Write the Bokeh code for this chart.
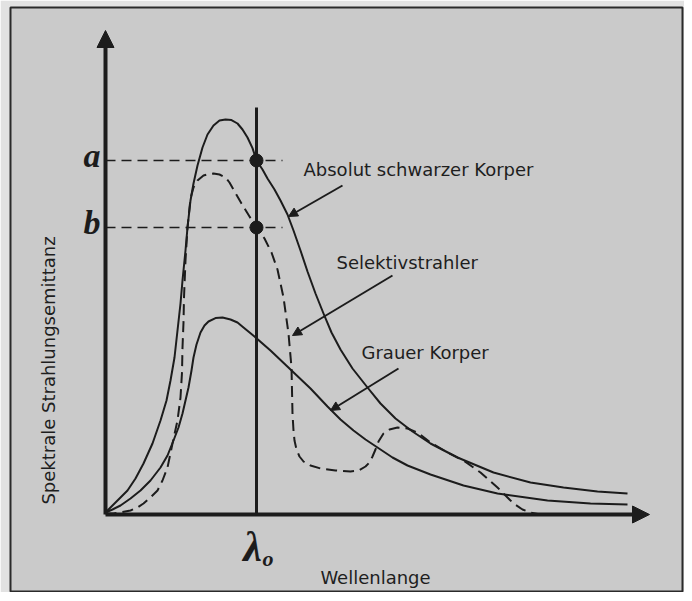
from bokeh.plotting import figure
from bokeh.models import Range1d, Label, Arrow, NormalHead
from bokeh.embed import file_html
from bokeh.resources import INLINE

# ---- data (arbitrary units: wavelength, spectral radiant emittance) ----
bb_lam = [0, 0.1, 0.26, 0.44, 0.6, 0.76, 0.94, 1.1, 1.22, 1.3, 1.38, 1.44, 1.5, 1.54, 1.6,
          1.64, 1.7, 1.76, 1.84, 1.94, 2.04, 2.16, 2.28, 2.4, 2.52, 2.64, 2.74, 2.84, 2.94,
          3.02, 3.14, 3.24, 3.38, 3.5, 3.64, 3.76, 3.9, 4.04, 4.2, 4.36, 4.52, 4.7, 4.94,
          5.24, 5.5, 5.8, 6.14, 6.5, 7.04, 7.76, 8.5, 9.16, 9.84, 10.44]
bb_em = [0.05, 0.175, 0.375, 0.6, 0.9, 1.275, 1.775, 2.35, 2.85, 3.35, 3.925, 4.6, 5.275,
         5.85, 6.6, 7.175, 7.85, 8.275, 8.725, 9.175, 9.5, 9.725, 9.85, 9.875, 9.86, 9.775,
         9.625, 9.425, 9.16, 8.85, 8.625, 8.4, 8.125, 7.85, 7.5, 7.1, 6.6, 6.075, 5.525,
         5.025, 4.55, 4.125, 3.65, 3.175, 2.775, 2.4, 2.075, 1.775, 1.425, 1.05, 0.8,
         0.675, 0.575, 0.525]

grey_lam = [0, 0.14, 0.3, 0.5, 0.7, 0.9, 1.1, 1.24, 1.36, 1.46, 1.54, 1.6, 1.66, 1.72, 1.76,
            1.82, 1.9, 1.98, 2.06, 2.2, 2.34, 2.5, 2.64, 2.76, 2.98, 3.3, 3.7, 4.1, 4.44,
            4.7, 4.96, 5.2, 5.44, 5.74, 6.04, 6.5, 7.16, 7.84, 8.84, 9.7, 10.44]
grey_em = [0.05, 0.125, 0.225, 0.4, 0.6, 0.85, 1.175, 1.475, 1.85, 2.175, 2.525, 2.85,
           3.175, 3.6, 3.925, 4.25, 4.55, 4.725, 4.825, 4.91, 4.925, 4.875, 4.8, 4.675,
           4.45, 4.1, 3.625, 3.15, 2.7, 2.375, 2.1, 1.875, 1.675, 1.425, 1.225, 1.0,
           0.725, 0.525, 0.35, 0.275, 0.25]

sel_lam = [0, 0.16, 0.34, 0.5, 0.64, 0.76, 0.9, 1.04, 1.14, 1.24, 1.34, 1.44, 1.5, 1.53,
           1.54, 1.56, 1.57, 1.6, 1.64, 1.7, 1.76, 1.84, 1.96, 2.06, 2.16, 2.28, 2.4, 2.48,
           2.56, 2.72, 2.88, 3.02, 3.18, 3.32, 3.44, 3.56, 3.66, 3.72, 3.74, 3.76, 3.78,
           3.82, 3.88, 3.96, 4.1, 4.3, 4.6, 4.9, 5.06, 5.2, 5.28, 5.34, 5.4, 5.46, 5.56,
           5.68, 5.84, 6.04, 6.24, 6.5, 6.84, 7.16, 7.5, 7.84, 8.0, 8.16, 8.34, 8.5, 8.7]
sel_em = [0.025, 0.025, 0.06, 0.1, 0.175, 0.275, 0.425, 0.6, 0.85, 1.175, 1.775, 2.35,
          2.925, 3.55, 4.175, 4.8, 5.425, 6.35, 7.175, 7.9, 8.175, 8.35, 8.475, 8.51, 8.525,
          8.5, 8.425, 8.3, 8.125, 7.775, 7.45, 7.175, 6.9, 6.55, 6.125, 5.425, 4.525,
          3.675, 2.525, 2.1, 1.85, 1.625, 1.45, 1.325, 1.225, 1.15, 1.1, 1.075, 1.1, 1.2,
          1.3, 1.45, 1.625, 1.825, 2.025, 2.125, 2.175, 2.15, 2.05, 1.8, 1.55, 1.35, 1.05,
          0.675, 0.475, 0.275, 0.125, 0.05, 0.0]

LAMBDA_0 = 3.02
LEVEL_A = 8.85
LEVEL_B = 7.175

label_black = "Absolut schwarzer Korper"
label_sel = "Selektivstrahler"
label_grey = "Grauer Korper"
x_title = "Wellenlange"
y_title = "Spektrale Strahlungsemittanz"

# ---- styling / layout ----
INK = "#1c1c1c"
PAPER = "#cacaca"
X_END = 10.88
Y_END = 12.1

p = figure(width=684, height=592, output_backend="svg", toolbar_location=None,
           x_axis_type=None, y_axis_type=None,
           x_range=Range1d(-1.9, 11.54), y_range=Range1d(-1.95, 12.675),
           min_border=0, min_border_left=10, min_border_right=2,
           min_border_top=7, min_border_bottom=0)
p.grid.visible = False
p.background_fill_color = PAPER
p.border_fill_color = "#e2e2e2"
p.outline_line_color = "#2a2a2a"
p.outline_line_width = 2

# axes drawn as arrows
p.add_layout(Arrow(x_start=0, y_start=0, x_end=0, y_end=Y_END, line_width=4, line_color=INK,
                   end=NormalHead(size=17, fill_color=INK, line_color=INK)))
p.add_layout(Arrow(x_start=0, y_start=0, x_end=X_END, y_end=0, line_width=4, line_color=INK,
                   end=NormalHead(size=17, fill_color=INK, line_color=INK)))

# lambda_0 vertical line and reference levels
p.segment(x0=[LAMBDA_0], y0=[0], x1=[LAMBDA_0], y1=[10.175], line_width=3, line_color=INK)
p.segment(x0=[0, 0], y0=[LEVEL_A, LEVEL_B], x1=[3.54, 3.54], y1=[LEVEL_A, LEVEL_B],
          line_width=1.5, line_color=INK, line_dash="10 6")

# curves
p.line(bb_lam, bb_em, line_width=2, line_color=INK, line_join="round")
p.line(grey_lam, grey_em, line_width=2, line_color=INK, line_join="round")
p.line(sel_lam, sel_em, line_width=2, line_color=INK, line_dash="11 6", line_join="round")

# points a, b
p.scatter([LAMBDA_0, LAMBDA_0], [LEVEL_A, LEVEL_B], size=13, fill_color=INK, line_color=INK)

# annotation arrows
for xs, ys, xe, ye in [(4.74, 8.225, 3.66, 7.45), (5.74, 5.975, 3.74, 4.475),
                       (5.86, 3.65, 4.5, 2.6)]:
    p.add_layout(Arrow(x_start=xs, y_start=ys, x_end=xe, y_end=ye, line_width=2,
                       line_color=INK,
                       end=NormalHead(size=9, fill_color=INK, line_color=INK)))

TF = "DejaVu Sans"
for txt, x, y in [(label_black, 3.96, 8.625), (label_sel, 4.62, 6.3), (label_grey, 5.12, 4.05)]:
    p.add_layout(Label(x=x, y=y, text=txt, text_font=TF, text_font_size="18px",
                       text_color="#1e1e1e", text_baseline="middle", text_align="left"))

p.add_layout(Label(x=5.4, y=-1.575, text=x_title, text_font=TF, text_font_size="18px",
                   text_color="#1e1e1e", text_baseline="middle", text_align="center"))
p.add_layout(Label(x=-1.14, y=3.6, text=y_title, text_font=TF, text_font_size="18px",
                   text_color="#1e1e1e", text_baseline="middle", text_align="center",
                   angle=90, angle_units="deg"))

SERIF = "Liberation Serif"
for t, lvl in [("a", LEVEL_A), ("b", LEVEL_B)]:
    p.add_layout(Label(x=0, y=lvl, x_offset=-5, y_offset=5, text=t, text_font=SERIF,
                       text_font_size="34px", text_font_style="bold italic", text_color=INK,
                       text_align="right", text_baseline="middle"))
p.add_layout(Label(x=LAMBDA_0, y=0, x_offset=-4, y_offset=-32, text="λ", text_font=SERIF,
                   text_font_size="42px", text_font_style="bold italic", text_color=INK,
                   text_align="center", text_baseline="middle"))
p.add_layout(Label(x=LAMBDA_0, y=0, x_offset=6, y_offset=-44, text="o", text_font=SERIF,
                   text_font_size="22px", text_font_style="bold italic", text_color=INK,
                   text_align="left", text_baseline="middle"))

open("out.html", "w").write(file_html(p, INLINE))
